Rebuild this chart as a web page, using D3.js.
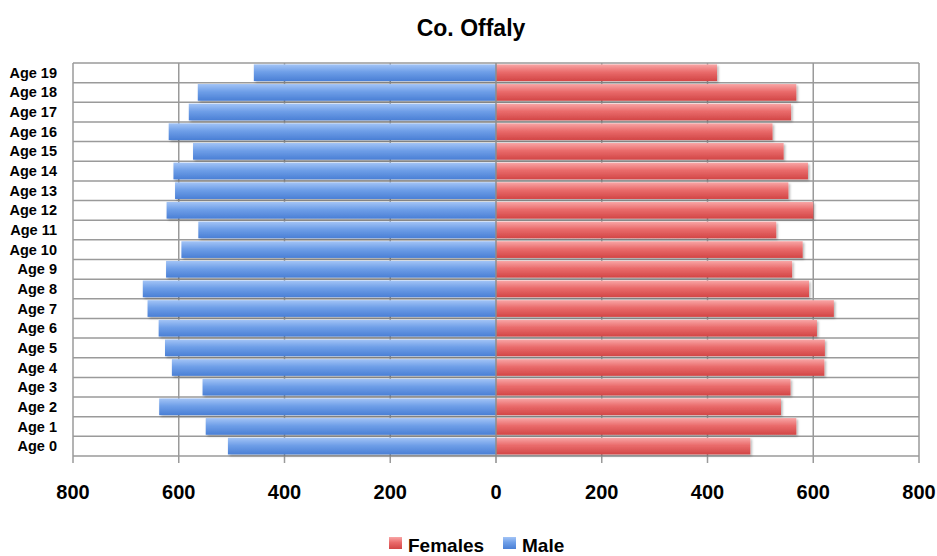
<!DOCTYPE html>
<html>
<head>
<meta charset="utf-8">
<script src="https://cdn.jsdelivr.net/npm/d3@7"></script>
<style>
  body { margin: 0; background: #fff; }
  text { font-family: "Liberation Sans", Arial, sans-serif; font-weight: bold; fill: #000; }
</style>
</head>
<body>
<div id="chart"></div>
<script>
// Data: ages from 0 to 19
var ages = ["Age 0", "Age 1", "Age 2", "Age 3", "Age 4", "Age 5", "Age 6", "Age 7", "Age 8", "Age 9",
  "Age 10", "Age 11", "Age 12", "Age 13", "Age 14", "Age 15", "Age 16", "Age 17", "Age 18", "Age 19"];
var male = [507, 549, 637, 555, 613, 626, 638, 659, 668, 624,
  595, 563, 623, 607, 610, 573, 619, 581, 564, 458];
var females = [481, 568, 539, 557, 621, 622, 607, 639, 592, 560,
  580, 530, 600, 553, 590, 544, 523, 558, 568, 418];
var tickValues = [-800, -600, -400, -200, 0, 200, 400, 600, 800];

var width = 937, height = 556;
var margin = { top: 63, right: 18, bottom: 100, left: 73 };

var svg = d3.select("#chart")
  .append("svg")
  .attr("width", width)
  .attr("height", height);

var defs = svg.append("defs");
function grad(id, c1, c2, c3) {
  var g = defs.append("linearGradient").attr("id", id)
    .attr("x1", 0).attr("y1", 0).attr("x2", 0).attr("y2", 1);
  g.append("stop").attr("offset", "0%").attr("stop-color", c1);
  g.append("stop").attr("offset", "45%").attr("stop-color", c2);
  g.append("stop").attr("offset", "100%").attr("stop-color", c3);
}
grad("gBlue", "#a3c4f6", "#6f9fe8", "#4a7fd5");
grad("gRed", "#f8a6a6", "#ea6c6c", "#d24646");

var shadow = defs.append("filter").attr("id", "shadow")
  .attr("x", "-5%").attr("y", "-20%").attr("width", "110%").attr("height", "160%");
shadow.append("feDropShadow").attr("dx", 1.5).attr("dy", 1.5).attr("stdDeviation", 1)
  .attr("flood-color", "#000").attr("flood-opacity", 0.3);

// Scales
var x = d3.scaleLinear()
  .domain([-800, 800])
  .range([margin.left, width - margin.right]);

var y = d3.scaleBand()
  .domain(ages.slice().reverse())
  .range([margin.top, height - margin.bottom])
  .padding(0);

var bandH = y.bandwidth();
var barH = bandH * 0.85;
var barOff = bandH * 0.07;

var grid = svg.append("g").attr("stroke", "#9a9a9a").attr("stroke-width", 1.5);

// Vertical gridlines (extend a bit below as tick marks)
grid.selectAll("line.v")
  .data(tickValues.filter(function (d) { return d !== 0; }))
  .enter().append("line")
  .attr("x1", function (d) { return x(d); })
  .attr("x2", function (d) { return x(d); })
  .attr("y1", margin.top)
  .attr("y2", height - margin.bottom + 7);

// Horizontal gridlines at row boundaries
var bounds = d3.range(ages.length + 1).map(function (i) { return margin.top + i * bandH; });
grid.selectAll("line.h")
  .data(bounds)
  .enter().append("line")
  .attr("x1", x(-800))
  .attr("x2", x(800))
  .attr("y1", function (d) { return d; })
  .attr("y2", function (d) { return d; });

// Bars
var bars = svg.append("g").attr("filter", "url(#shadow)");
bars.selectAll("rect.male")
  .data(male)
  .enter().append("rect")
  .attr("x", function (d) { return x(-d); })
  .attr("width", function (d) { return x(0) - x(-d); })
  .attr("y", function (d, i) { return y(ages[i]) + barOff; })
  .attr("height", barH)
  .attr("fill", "url(#gBlue)");

bars.selectAll("rect.fem")
  .data(females)
  .enter().append("rect")
  .attr("x", x(0))
  .attr("width", function (d) { return x(d) - x(0); })
  .attr("y", function (d, i) { return y(ages[i]) + barOff; })
  .attr("height", barH)
  .attr("fill", "url(#gRed)");

// Zero line on top of bars
svg.append("line")
  .attr("x1", x(0)).attr("x2", x(0))
  .attr("y1", margin.top).attr("y2", height - margin.bottom + 7)
  .attr("stroke", "#8c8c8c").attr("stroke-width", 1.5);

// Category labels
svg.append("g").selectAll("text")
  .data(ages)
  .enter().append("text")
  .attr("x", 57)
  .attr("y", function (d) { return y(d) + bandH / 2 + 5; })
  .attr("text-anchor", "end")
  .style("font-size", "14.5px")
  .text(function (d) { return d; });

// X tick labels
svg.append("g").selectAll("text")
  .data(tickValues)
  .enter().append("text")
  .attr("x", function (d) { return x(d); })
  .attr("y", 499)
  .attr("text-anchor", "middle")
  .style("font-size", "20px")
  .text(function (d) { return Math.abs(d); });

// Title
svg.append("text")
  .attr("x", 471)
  .attr("y", 36)
  .attr("text-anchor", "middle")
  .style("font-size", "23px")
  .text("Co. Offaly");

// Legend
var legend = [{ name: "Females", fill: "url(#gRed)", x: 389 }, { name: "Male", fill: "url(#gBlue)", x: 503 }];
var lg = svg.append("g").selectAll("g")
  .data(legend)
  .enter().append("g");
lg.append("rect")
  .attr("x", function (d) { return d.x; })
  .attr("y", 537)
  .attr("width", 13).attr("height", 12)
  .attr("fill", function (d) { return d.fill; });
lg.append("text")
  .attr("x", function (d) { return d.x + 19; })
  .attr("y", 552)
  .style("font-size", "19px")
  .text(function (d) { return d.name; });
</script>
</body>
</html>
